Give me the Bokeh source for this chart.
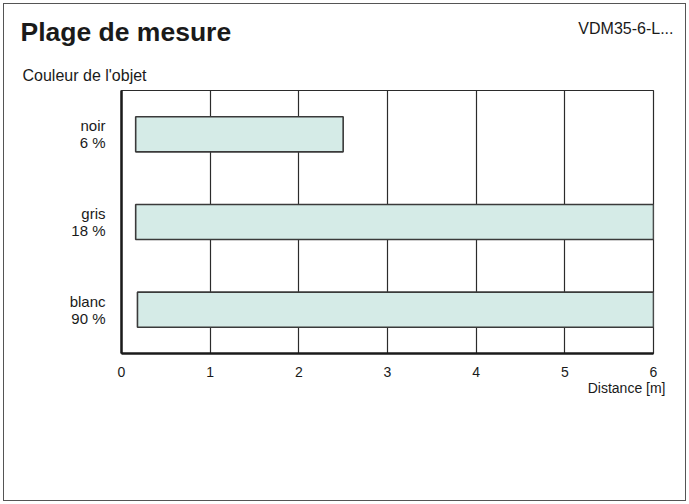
from bokeh.plotting import figure
from bokeh.models import FactorRange, Range1d, Title, FixedTicker, ColumnDataSource
from bokeh.embed import file_html
from bokeh.resources import INLINE

# data
names = ["noir", "gris", "blanc"]
percents = ["6 %", "18 %", "90 %"]
range_start = [0.16, 0.16, 0.18]
range_end = [2.5, 6.0, 6.0]
x_ticks = [0, 1, 2, 3, 4, 5, 6]

title_text = "Plage de mesure"
model_text = "VDM35-6-L..."
y_title = "Couleur de l'objet"
x_title = "Distance [m]"

W, H = 689, 504
FL, FR, FT, FB = 121, 653, 90, 353   # frame edges in canvas pixels
FONT = "Liberation Sans"
DARK = "#2b2b2b"
TXT = "#1a1a1a"

labels = [f"{n}\n{p}" for n, p in zip(names, percents)]
src = ColumnDataSource(dict(y=labels, left=range_start, right=range_end))

p = figure(width=W, height=H, output_backend="svg", toolbar_location=None,
           y_range=FactorRange(factors=labels[::-1], range_padding=0),
           x_range=Range1d(x_ticks[0], x_ticks[-1]),
           min_border_left=FL, min_border_right=W - FR, min_border_top=FT, min_border_bottom=H - FB)
p.background_fill_color = "white"
p.border_fill_color = None
p.outline_line_color = DARK
p.outline_line_width = 1.2
p.styles = {"outline": "1.5px solid #555555", "outline-offset": "-4px"}

p.hbar(y="y", left="left", right="right", height=0.4, source=src,
       fill_color="#d5ebe7", line_color="#3a3a3a", line_width=1.6)

# x axis
p.xaxis.ticker = FixedTicker(ticks=x_ticks)
p.xaxis.major_tick_in = 0
p.xaxis.major_tick_out = 0
p.xaxis.minor_tick_line_color = None
p.xaxis.axis_line_width = 2.5
p.xaxis.axis_line_color = TXT
p.xaxis.major_label_standoff = 13
p.xaxis.major_label_text_font = FONT
p.xaxis.major_label_text_font_size = "14px"
p.xaxis.major_label_text_color = TXT

# y axis
p.yaxis.major_tick_in = 0
p.yaxis.major_tick_out = 0
p.yaxis.axis_line_width = 2.5
p.yaxis.axis_line_color = TXT
p.yaxis.major_label_standoff = 16
p.yaxis.major_label_text_font = FONT
p.yaxis.major_label_text_font_size = "15px"
p.yaxis.major_label_text_color = TXT
p.yaxis.major_label_text_line_height = 1.0

# grid
p.xgrid.ticker = FixedTicker(ticks=x_ticks)
p.xgrid.grid_line_color = DARK
p.xgrid.grid_line_width = 1.2
p.ygrid.grid_line_color = None

def ttl(text, size, align, offset, standoff, bold=False):
    return Title(text=text, align=align, offset=offset, standoff=standoff,
                 vertical_align="bottom", text_font=FONT, text_font_size=size,
                 text_font_style="bold" if bold else "normal", text_color=TXT)

# above panel: first added sits closest to the frame
p.add_layout(ttl(y_title, "16px", "left", -99, 12.4), "above")
p.add_layout(ttl(title_text, "26.5px", "left", -101, 24.2, bold=True), "above")
p.add_layout(ttl(model_text, "16px", "right", -20, -67.6), "above")

# below panel: after the x axis
p.add_layout(ttl(x_title, "14px", "right", -12, -3), "below")

open("out.html", "w").write(file_html(p, INLINE))
